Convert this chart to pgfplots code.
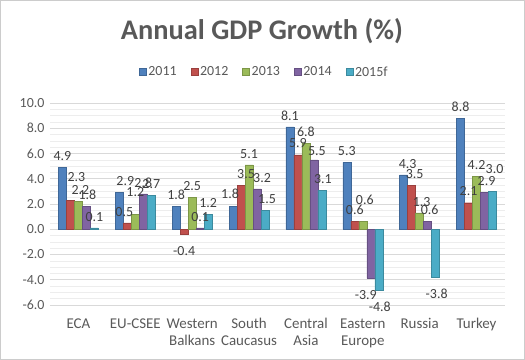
\documentclass[border=0pt]{standalone}
\usepackage{pgfplots}
\pgfplotsset{compat=1.18}
\usepackage{fontspec}
\setmainfont{Carlito}
\definecolor{c1}{HTML}{4F81BD}
\definecolor{c2}{HTML}{C0504D}
\definecolor{c3}{HTML}{9BBB59}
\definecolor{c4}{HTML}{8064A2}
\definecolor{c5}{HTML}{4BACC6}
\definecolor{txt}{HTML}{595959}
\definecolor{lab}{HTML}{404040}
\pgfplotsset{lbl/.style={
  visualization depends on={value \thisrow{dx} \as \dx},
  visualization depends on={value \thisrow{dy} \as \dy},
  every node near coord/.append style={xshift=\dx bp, yshift=\dy bp}}}
\begin{document}
\begin{tikzpicture}
\draw[draw=black!20, line width=1pt] (0.5bp,0.5bp) rectangle (524.5bp,359.5bp);
\node[font=\fontsize{28.5}{32}\selectfont\bfseries, text=txt] at (262bp,329bp) {Annual GDP Growth (\%)};
\begin{axis}[
  at={(50bp,55bp)}, anchor=south west,
  scale only axis, width=455bp, height=202bp,
  ybar=0pt, bar width=8bp,
  xmin=-0.5, xmax=7.5, ymin=-6, ymax=10,
  xtick={0,...,7},
  xticklabels={ECA, EU-CSEE, Western\\Balkans, South\\Caucasus, Central\\Asia, Eastern\\Europe, Russia, Turkey},
  x tick label style={align=center, font=\fontsize{15}{17}\selectfont, text=txt, yshift=-10bp},
  ytick={-6,-4,...,10},
  minor y tick num=3,
  y tick label style={font=\fontsize{14}{16}\selectfont, text=txt, xshift=-2bp, /pgf/number format/fixed, /pgf/number format/fixed zerofill, /pgf/number format/precision=1, /pgf/number format/assume math mode=true},
  ymajorgrids, yminorgrids,
  major grid style={draw=black!15, line width=0.8pt},
  minor grid style={draw=black!7, line width=0.6pt},
  axis line style={draw=none},
  major tick length=0pt, minor tick length=0pt,
  tick style={draw=none},
  nodes near coords,
  every node near coord/.append style={font=\fontsize{14}{16}\selectfont, text=lab, inner sep=1.5pt, /pgf/number format/fixed, /pgf/number format/fixed zerofill, /pgf/number format/precision=1, /pgf/number format/assume math mode=true},
  legend style={at={(0.471,1.153)}, anchor=center, draw=none, legend columns=-1, font=\fontsize{14}{16}\selectfont, text=txt, /tikz/every even column/.append style={column sep=12bp}},
  legend image code/.code={\fill[#1] (0bp,-3.5bp) rectangle (7bp,3.5bp);},
]
\addplot[fill=c1, draw=c1!80!black, lbl] table[x=x, y=y] {
x y dx dy
0 4.9 0 5
1 2.9 6 5
2 1.8 0 5
3 1.8 -3 6
4 8.1 0 5
5 5.3 0 5
6 4.3 4 5
7 8.8 0 5
};
\addplot[fill=c2, draw=c2!80!black, lbl] table[x=x, y=y] {
x y dx dy
0 2.3 6 17
1 0.5 -3 5
2 -0.4 0 -10
3 3.5 5 5
4 5.9 0 5
5 0.6 0 5
6 3.5 3 5
7 2.1 0 5
};
\addplot[fill=c3, draw=c3!80!black, lbl] table[x=x, y=y] {
x y dx dy
0 2.2 2 5
1 1.2 0 16
2 2.5 0 5
3 5.1 0 5
4 6.8 0 5
5 0.6 2 15
6 1.3 2 5
7 4.2 0 5
};
\addplot[fill=c4, draw=c4!80!black, lbl] table[x=x, y=y] {
x y dx dy
0 1.8 1 5
1 2.8 0 5
2 0.1 0 5
3 3.2 5 5
4 5.5 3 3
5 -3.9 -5 -10
6 0.6 2 5
7 2.9 2 5
};
\addplot[fill=c5, draw=c5!80!black, lbl] table[x=x, y=y] {
x y dx dy
0 0.1 0 5
1 2.7 0 5
2 1.2 0 5
3 1.5 2 5
4 3.1 1 5
5 -4.8 1 -10
6 -3.8 1 -10
7 3.0 2 16
};
\legend{2011,2012,2013,2014,2015f}
\end{axis}
\end{tikzpicture}
\end{document}
